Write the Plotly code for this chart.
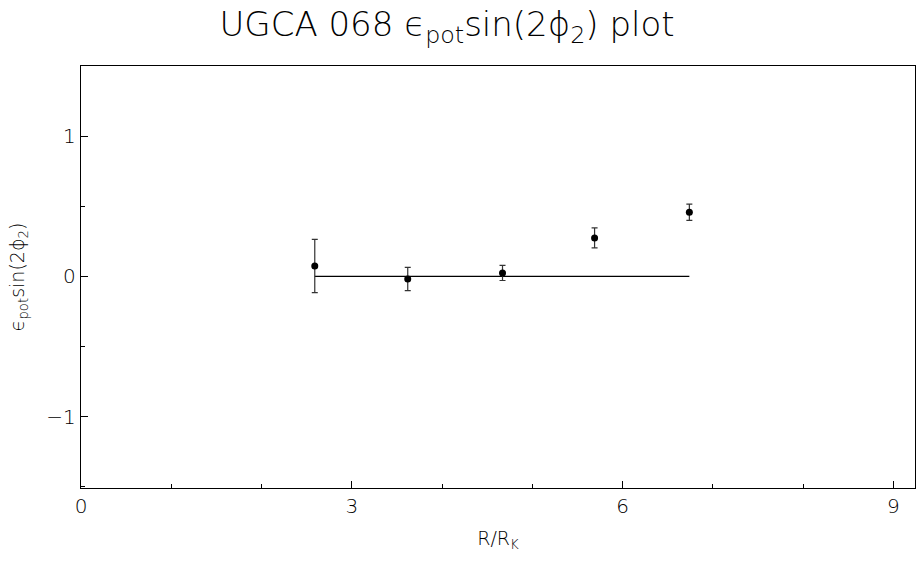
import plotly.graph_objects as go

# Data
r_vals = [2.59, 3.62, 4.67, 5.69, 6.74]
eps_vals = [0.074, -0.019, 0.024, 0.274, 0.457]
eps_err = [0.19, 0.083, 0.054, 0.071, 0.058]
fit_x = [2.59, 6.74]
fit_y = [0.0, 0.0]
x_ticks = [0, 3, 6, 9]
y_ticks = [-1, 0, 1]

FONT = "DejaVu Sans"
W = 200

fig = go.Figure()
fig.add_trace(go.Scatter(
    x=fit_x, y=fit_y, mode="lines",
    line=dict(color="black", width=1.3), showlegend=False, hoverinfo="skip"))
fig.add_trace(go.Scatter(
    x=r_vals, y=eps_vals, mode="markers",
    marker=dict(color="black", size=7),
    error_y=dict(type="data", array=eps_err, visible=True,
                 color="#333", thickness=1.2, width=3),
    showlegend=False))

fig.update_layout(
    width=916, height=562,
    margin=dict(l=81, r=1, t=66, b=74),
    paper_bgcolor="white", plot_bgcolor="white",
    font=dict(family=FONT, color="black", size=19, weight=W),
    title=dict(text="UGCA 068 ϵ<sub>pot</sub>sin(2ϕ<sub>2</sub>) plot",
               x=0.488, xanchor="center", y=0.957, yanchor="middle",
               font=dict(family=FONT, size=34, color="black", weight=W)),
    xaxis=dict(range=[0, 9.24], tickvals=x_ticks, ticks="inside", ticklen=7,
               tickcolor="black", showgrid=False, zeroline=False,
               showline=True, linecolor="black", linewidth=1.3, mirror=True,
               minor=dict(dtick=1, ticks="inside", ticklen=4, tickcolor="black"),
               title=dict(text="R/R<sub>K</sub>", standoff=14,
                          font=dict(size=19, color="black", family=FONT, weight=W)),
               tickfont=dict(size=20, color="black", family=FONT, weight=W)),
    yaxis=dict(range=[-1.51, 1.5], tickvals=y_ticks, ticktext=["−1", "0", "1"],
               ticks="inside", ticklen=7,
               tickcolor="black", showgrid=False, zeroline=False,
               showline=True, linecolor="black", linewidth=1.3, mirror=True,
               minor=dict(dtick=0.5, ticks="inside", ticklen=4, tickcolor="black"),
               title=dict(text="ϵ<sub>pot</sub>sin(2ϕ<sub>2</sub>)", standoff=16,
                          font=dict(size=19, color="black", family=FONT, weight=W)),
               tickfont=dict(size=20, color="black", family=FONT, weight=W)),
)

fig.write_html("out.html")
